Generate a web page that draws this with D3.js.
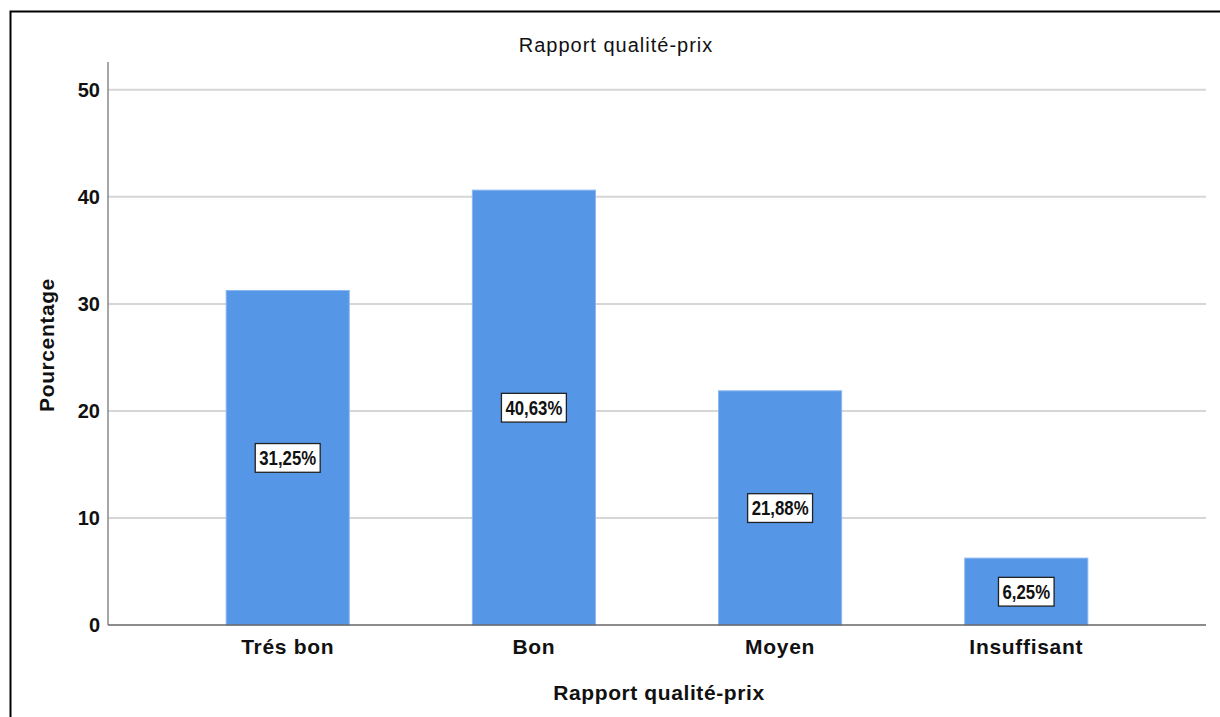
<!DOCTYPE html>
<html>
<head>
<meta charset="utf-8">
<script src="https://cdn.jsdelivr.net/npm/d3@7"></script>
<style>
  body { margin: 0; background: #fff; }
  svg { display: block; }
</style>
</head>
<body>
<svg id="chart" width="1220" height="717"></svg>
<script>
// Rapport qualité-prix — percentage of answers per category
const categories = ["Trés bon", "Bon", "Moyen", "Insuffisant"];
const percentages = [31.25, 40.63, 21.88, 6.25];
const yTicks = [0, 10, 20, 30, 40, 50];

const svg = d3.select("#chart");
const W = 1220, H = 717;
const plot = { left: 108, right: 1206, top: 62, bottom: 625 };
const FONT = "Liberation Sans, Arial, sans-serif";

// outer frame
svg.append("path")
  .attr("d", `M10.5,${H + 2} V11.5 H${W + 2}`)
  .attr("fill", "none").attr("stroke", "#000").attr("stroke-width", 2);

const x = d3.scaleBand()
  .domain(categories)
  .range([plot.left, plot.right])
  .paddingInner(0.5)
  .paddingOuter(0.48);

const y = d3.scaleLinear()
  .domain([0, 52.6])
  .range([plot.bottom, plot.top]);

// horizontal gridlines
svg.append("g")
  .selectAll("line")
  .data(yTicks.filter(t => t > 0))
  .join("line")
  .attr("x1", plot.left).attr("x2", plot.right)
  .attr("y1", d => y(d)).attr("y2", d => y(d))
  .attr("stroke", "#d6d6d6").attr("stroke-width", 2);

// bars
svg.append("g")
  .selectAll("rect")
  .data(categories)
  .join("rect")
  .attr("x", d => x(d))
  .attr("width", x.bandwidth())
  .attr("y", (d, i) => y(percentages[i]))
  .attr("height", (d, i) => y(0) - y(percentages[i]))
  .attr("fill", "#5596e6")
  .attr("stroke", "#8bb8ef").attr("stroke-width", 1);

// y axis
const yAxis = d3.axisLeft(y).tickValues(yTicks).tickSize(0).tickPadding(8);
const gy = svg.append("g").attr("transform", `translate(${plot.left},0)`).call(yAxis);
gy.select(".domain").remove();
gy.selectAll("text")
  .attr("font-family", FONT)
  .attr("font-size", 20).attr("font-weight", "bold").attr("fill", "#111");
svg.append("line")
  .attr("x1", plot.left).attr("x2", plot.left)
  .attr("y1", plot.top).attr("y2", plot.bottom)
  .attr("stroke", "#888").attr("stroke-width", 1.5);

// x axis
const xAxis = d3.axisBottom(x).tickSize(0).tickPadding(14);
const gx = svg.append("g").attr("transform", `translate(0,${plot.bottom})`).call(xAxis);
gx.select(".domain").remove();
gx.selectAll("text")
  .attr("font-family", FONT)
  .attr("font-size", 21).attr("font-weight", "bold").attr("fill", "#111")
  .attr("letter-spacing", 0.7);
svg.append("line")
  .attr("x1", plot.left).attr("x2", plot.right)
  .attr("y1", plot.bottom).attr("y2", plot.bottom)
  .attr("stroke", "#666").attr("stroke-width", 1.5);

// value labels: condensed bold text in a white box
const labelFmt = v => v.toFixed(2).replace(".", ",") + "%";
const condense = 0.84;
const labels = svg.append("g")
  .selectAll("g")
  .data(categories)
  .join("g")
  .attr("transform", (d, i) => `translate(${x(d) + x.bandwidth() / 2},${y(percentages[i] / 2)})`);
labels.append("text")
  .attr("text-anchor", "middle")
  .attr("dy", "0.36em")
  .attr("transform", `scale(${condense},1)`)
  .attr("font-family", FONT)
  .attr("font-size", 20).attr("font-weight", "bold").attr("fill", "#111")
  .text((d, i) => labelFmt(percentages[i]));
labels.each(function () {
  const g = d3.select(this);
  const bb = g.select("text").node().getBBox();
  const w = bb.width * condense;
  g.insert("rect", "text")
    .attr("x", -w / 2 - 4).attr("y", bb.y - 3)
    .attr("width", w + 8).attr("height", bb.height + 6)
    .attr("fill", "#fff").attr("stroke", "#222").attr("stroke-width", 1.3);
});

// titles
svg.append("text")
  .attr("x", 616).attr("y", 52)
  .attr("text-anchor", "middle")
  .attr("font-family", FONT)
  .attr("font-size", 20).attr("fill", "#111")
  .attr("letter-spacing", 1)
  .text("Rapport qualité-prix");

svg.append("text")
  .attr("x", 659).attr("y", 700)
  .attr("text-anchor", "middle")
  .attr("font-family", FONT)
  .attr("font-size", 21).attr("font-weight", "bold").attr("fill", "#111")
  .attr("letter-spacing", 0.6)
  .text("Rapport qualité-prix");

svg.append("text")
  .attr("transform", `translate(54,345) rotate(-90)`)
  .attr("text-anchor", "middle")
  .attr("font-family", FONT)
  .attr("font-size", 21).attr("font-weight", "bold").attr("fill", "#111")
  .attr("letter-spacing", 0.6)
  .text("Pourcentage");
</script>
</body>
</html>
